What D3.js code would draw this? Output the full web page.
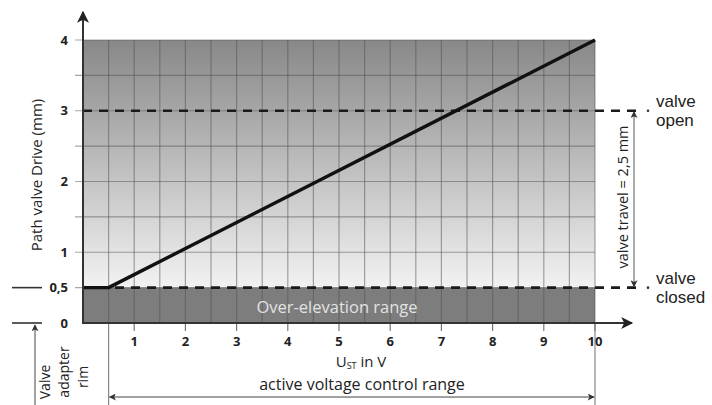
<!DOCTYPE html>
<html><head><meta charset="utf-8">
<script src="https://cdn.jsdelivr.net/npm/d3@7"></script>
<style>body{margin:0;background:#fff}svg{display:block}text{font-family:"Open Sans",sans-serif}</style>
</head><body><svg id="c" width="712" height="405"></svg>
<script>
// Data
const curveV = [0, 0.5, 10];
const curveMM = [0.5, 0.5, 4];
const xTickValues = [1,2,3,4,5,6,7,8,9,10];
const yTickValues = [0, 0.5, 1, 2, 3, 4];
const yTickLabels = ["0", "0,5", "1", "2", "3", "4"];
const valveOpenMM = 3;
const valveClosedMM = 0.5;
const activeStartV = 0.5;
const xLabel = "in V";
const yLabel = "Path valve Drive (mm)";

const svg = d3.select("#c");
const x = d3.scaleLinear().domain([0,10]).range([83,595]);
const y = d3.scaleLinear().domain([0,4]).range([323,40]);

const defs = svg.append("defs");
const grad = defs.append("linearGradient").attr("id","g").attr("x1",0).attr("y1",0).attr("x2",0).attr("y2",1);
grad.append("stop").attr("offset","0%").attr("stop-color","#888");
grad.append("stop").attr("offset","100%").attr("stop-color","#f2f2f2");
function marker(id, color, w, h){
  defs.append("marker").attr("id",id).attr("viewBox","0 0 10 10").attr("refX",9).attr("refY",5)
    .attr("markerWidth",w).attr("markerHeight",h).attr("markerUnits","userSpaceOnUse").attr("orient","auto-start-reverse")
    .append("path").attr("d","M0,0 L10,5 L0,10 L2.5,5 Z").attr("fill",color);
}
marker("ab", "#222", 16, 12);
marker("as", "#333", 9, 7);

// backgrounds
svg.append("rect").attr("x",x(0)).attr("y",y(4)).attr("width",x(10)-x(0)).attr("height",y(valveClosedMM)-y(4)).attr("fill","url(#g)");
svg.append("rect").attr("x",x(0)).attr("y",y(valveClosedMM)).attr("width",x(10)-x(0)).attr("height",y(0)-y(valveClosedMM)).attr("fill","#7d7d7d");

// grid
const gx = d3.range(0.5, 10.01, 0.5);
const gy = d3.range(0.5, 4.01, 0.5);
svg.append("g").selectAll("line").data(gx).join("line")
  .attr("x1",d=>x(d)).attr("x2",d=>x(d)).attr("y1",y(4)).attr("y2",y(0))
  .attr("stroke","#505050").attr("stroke-opacity",0.5).attr("stroke-width",1.2);
svg.append("g").selectAll("line").data(gy).join("line")
  .attr("x1",x(0)-8).attr("x2",x(10)).attr("y1",d=>y(d)).attr("y2",d=>y(d))
  .attr("stroke","#505050").attr("stroke-opacity",0.5).attr("stroke-width",1.2);

// over-elevation label
svg.append("text").attr("x",337).attr("y",313)
  .attr("text-anchor","middle").attr("fill","#e2e2e2").attr("font-size",16.5).text("Over-elevation range");

// extension lines for active range
[activeStartV, 10].forEach(v=>{
  svg.append("line").attr("x1",x(v)).attr("x2",x(v)).attr("y1",y(0)).attr("y2",405)
    .attr("stroke","#888").attr("stroke-width",1.2);
});
// x ticks
const xAxis = svg.append("g");
xAxis.selectAll("line").data(xTickValues).join("line")
  .attr("x1",d=>x(d)).attr("x2",d=>x(d)).attr("y1",y(0)).attr("y2",y(0)+8)
  .attr("stroke","#777").attr("stroke-width",1.2);
xAxis.selectAll("text").data(xTickValues).join("text")
  .attr("x",d=>x(d)).attr("y",y(0)+23).attr("text-anchor","middle")
  .attr("font-size",13).attr("font-weight",700).attr("fill","#222").text(d=>d);

// dashed lines
[valveOpenMM, valveClosedMM].forEach(v=>{
  svg.append("line").attr("x1",x(0)).attr("x2",638).attr("y1",y(v)).attr("y2",y(v))
    .attr("stroke","#1a1a1a").attr("stroke-width",2.6).attr("stroke-dasharray","9,7");
  svg.append("circle").attr("cx",648).attr("cy",y(v)).attr("r",1.3).attr("fill","#333");
});

// curve
const line = d3.line().x((d,i)=>x(curveV[i])).y((d,i)=>y(curveMM[i]));
svg.append("path").datum(curveV).attr("d",line).attr("fill","none")
  .attr("stroke","#111").attr("stroke-width",3.4).attr("stroke-linejoin","round");

// axes
svg.append("line").attr("x1",x(0)).attr("x2",x(0)).attr("y1",y(0)+1).attr("y2",12)
  .attr("stroke","#333").attr("stroke-width",2).attr("marker-end","url(#ab)");
svg.append("line").attr("x1",x(0)-1).attr("x2",632).attr("y1",y(0)).attr("y2",y(0))
  .attr("stroke","#333").attr("stroke-width",2).attr("marker-end","url(#ab)");

// y tick labels
svg.append("g").selectAll("text").data(yTickValues).join("text")
  .attr("x",68).attr("y",d=>y(d)+4.5).attr("text-anchor","end")
  .attr("font-size",13).attr("font-weight",700).attr("fill","#222").text((d,i)=>yTickLabels[i]);
// reference marks at 0 and 0.5
[0, valveClosedMM].forEach(v=>{
  svg.append("line").attr("x1",12).attr("x2",42).attr("y1",y(v)).attr("y2",y(v))
    .attr("stroke","#333").attr("stroke-width",1.6);
});

// y label
svg.append("text").attr("transform",`translate(42,${175}) rotate(-90)`).attr("text-anchor","middle")
  .attr("font-size",15).attr("fill","#222").text(yLabel);

// x labels
const xl = svg.append("text").attr("x",361).attr("y",367).attr("text-anchor","middle").attr("font-size",15).attr("fill","#222");
xl.append("tspan").text("U");
xl.append("tspan").attr("font-size",9).attr("dy",2).text("ST");
xl.append("tspan").attr("dy",-2).text(" " + xLabel);
svg.append("text").attr("x",362).attr("y",390).attr("text-anchor","middle").attr("font-size",16).attr("fill","#222").text("active voltage control range");

// active range dimension
svg.append("line").attr("x1",x(activeStartV)+1).attr("x2",x(10)-1).attr("y1",397).attr("y2",397)
  .attr("stroke","#444").attr("stroke-width",1).attr("marker-start","url(#as)").attr("marker-end","url(#as)");

// valve adapter rim
svg.append("line").attr("x1",35).attr("x2",35).attr("y1",405).attr("y2",y(0)+2)
  .attr("stroke","#444").attr("stroke-width",1).attr("marker-end","url(#as)");
const rim = ["Valve","adapter","rim"];
svg.append("g").selectAll("text").data(rim).join("text")
  .attr("transform",(d,i)=>`translate(${50+i*19},${[382,372,377][i]}) rotate(-90)`)
  .attr("text-anchor","middle").attr("font-size",14).attr("fill","#222").text(d=>d);

// valve travel dimension
svg.append("line").attr("x1",634).attr("x2",634).attr("y1",y(valveOpenMM)+1).attr("y2",y(valveClosedMM)-1)
  .attr("stroke","#555").attr("stroke-width",1).attr("marker-start","url(#as)").attr("marker-end","url(#as)");
svg.append("text").attr("transform",`translate(628,${197}) rotate(-90)`)
  .attr("text-anchor","middle").attr("font-size",14.5).attr("fill","#222").text("valve travel = 2,5 mm");

// valve open/closed labels
[[valveOpenMM,"valve","open"],[valveClosedMM,"valve","closed"]].forEach(([v,a,b])=>{
  svg.append("text").attr("x",656).attr("y",y(v)-4).attr("font-size",17)
    .style("font-family","'Liberation Sans',sans-serif").attr("fill","#222").text(a);
  svg.append("text").attr("x",656).attr("y",y(v)+15).attr("font-size",17)
    .style("font-family","'Liberation Sans',sans-serif").attr("fill","#222").text(b);
});
</script></body></html>
